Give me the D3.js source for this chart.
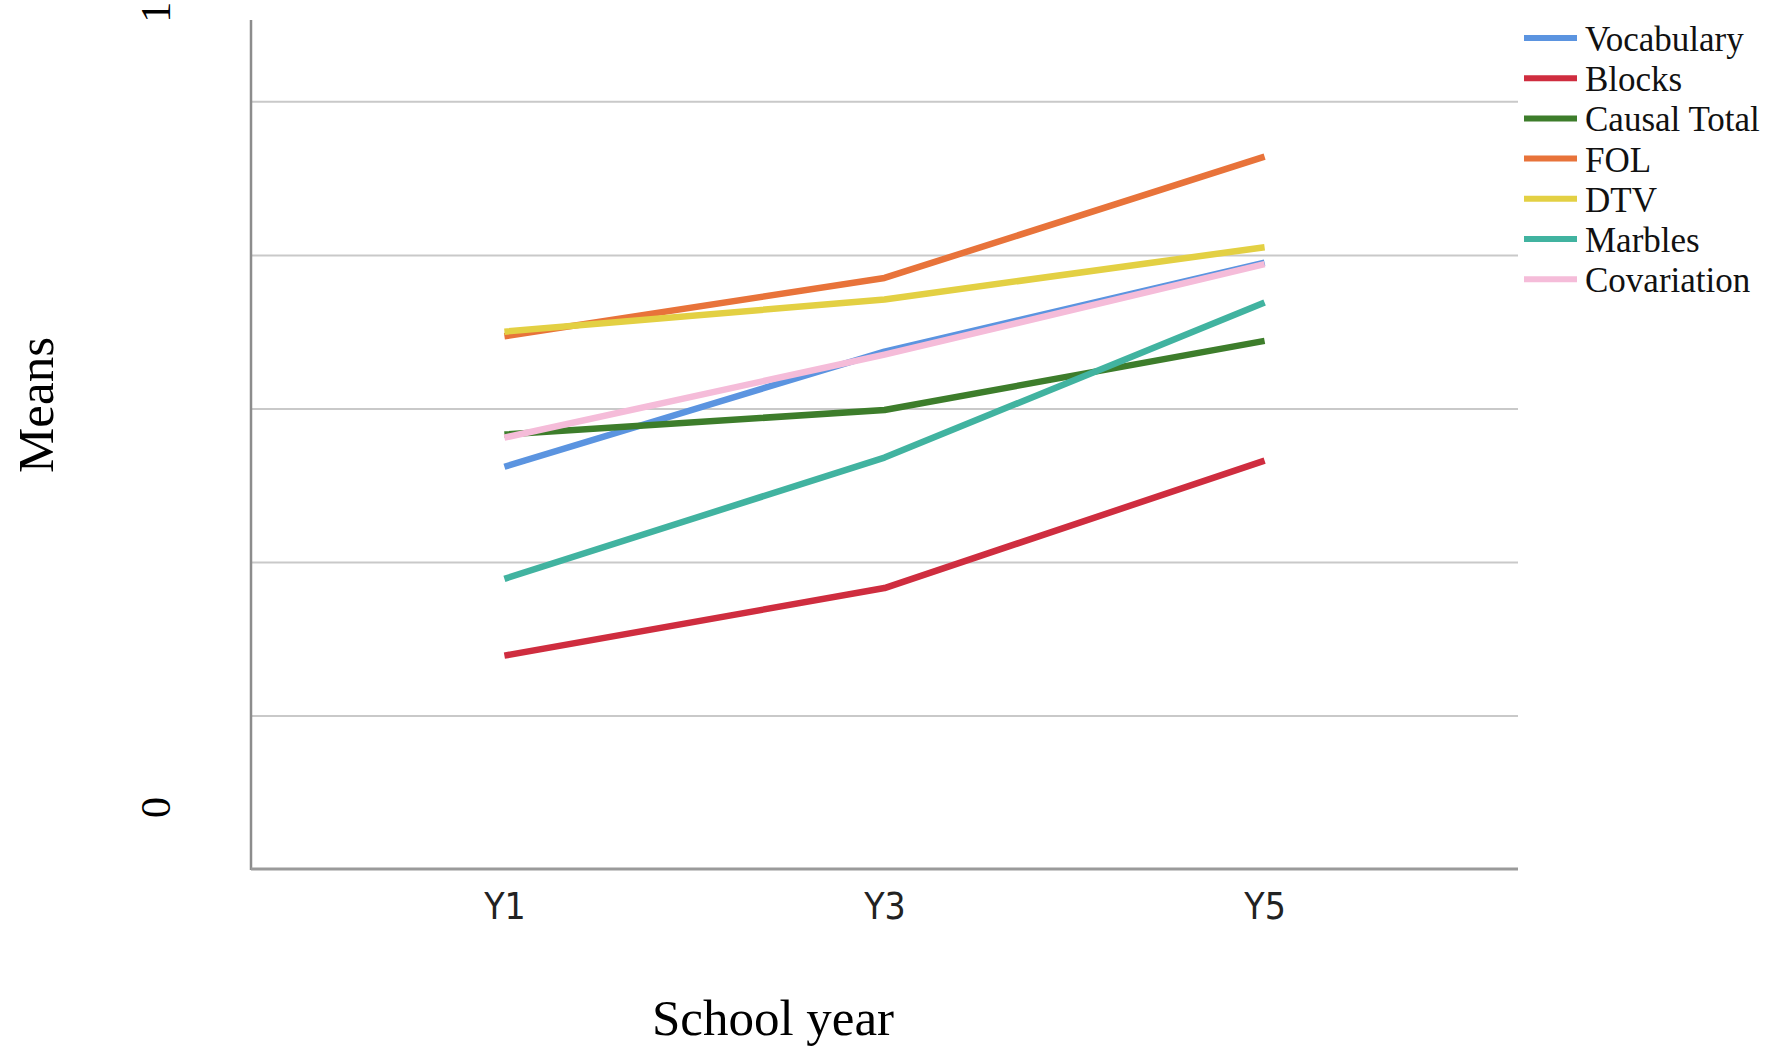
<!DOCTYPE html>
<html>
<head>
<meta charset="utf-8">
<script src="https://cdn.jsdelivr.net/npm/d3@7"></script>
<style>
body{margin:0;background:#fff;}
#canvas{width:1772px;height:1062px;}
</style>
</head>
<body>
<div id="canvas"></div>
<script>
// values, in gridline units (gridlines at 1..5)
var years = ["Y1","Y3","Y5"];
var seriesNames = ["Vocabulary","Blocks","Causal Total","FOL","DTV","Marbles","Covariation"];
var vocabulary = [2.62, 3.37, 3.95];
var blocks = [1.39, 1.83, 2.66];
var causalTotal = [2.83, 2.99, 3.44];
var fol = [3.47, 3.85, 4.64];
var dtv = [3.50, 3.71, 4.05];
var marbles = [1.89, 2.68, 3.69];
var covariation = [2.81, 3.35, 3.94];
var gridTicks = [1,2,3,4,5];
var yTickLabels = ["0","1"];
var seriesColors = ["#5b94e0","#cf2d3f","#3d7d2b","#e8733a","#e3d043","#41b3a0","#f5bcd9"];

var width = 1772;
var height = 1062;
var plotLeft = 251, plotRight = 1518, plotTop = 20, plotBottom = 869;

var init = function(){
	var svg = d3.select("#canvas").append("svg");
	svg.attr("width",width).attr("height",height);
	return svg;
}

var svg = init();

var x = d3.scalePoint().domain(years).range([plotLeft,1518]).padding(2/3);
var y = d3.scaleLinear().domain([0,5.53]).range([plotBottom,plotTop]);

// gridlines
var grid = svg.append("g").attr("transform","translate("+plotLeft+",0)")
	.call(d3.axisLeft(y).tickValues(gridTicks).tickSize(-(plotRight-plotLeft)).tickFormat(""));
grid.select(".domain").remove();
grid.selectAll("line").attr("stroke","#c9c9c9").attr("stroke-width",2);

// axes lines
svg.append("line").attr("x1",plotLeft).attr("x2",plotLeft).attr("y1",plotTop).attr("y2",plotBottom+1)
	.attr("stroke","#8c8c8c").attr("stroke-width",2.5);

var xa = svg.append("g").attr("transform","translate(0,"+plotBottom+")")
	.call(d3.axisBottom(x).tickSize(0).tickPadding(22));
xa.select(".domain").attr("d","M"+plotLeft+",0H"+plotRight).attr("stroke","#9a9a9a").attr("stroke-width",3);
xa.selectAll("text")
	.attr("font-family","'DejaVu Sans Condensed','DejaVu Sans',sans-serif")
	.attr("font-stretch","condensed")
	.attr("font-size",37).attr("fill","#222").attr("dy","0.75em");

// lines
var allSeries = [vocabulary,blocks,causalTotal,fol,dtv,marbles,covariation];
var line = d3.line().x(function(d,i){return x(years[i]);}).y(function(d){return y(d);});
allSeries.forEach(function(s,i){
	svg.append("path").attr("d",line(s)).attr("fill","none")
		.attr("stroke",seriesColors[i]).attr("stroke-width",6.5)
		.attr("stroke-linejoin","round");
});

// odd rotated y labels
var serif = "'Liberation Serif','Times New Roman',serif";
var yLabelAt = [0.4,5.58];
yTickLabels.forEach(function(t,i){
	svg.append("text").text(t)
		.attr("transform","translate(156,"+y(yLabelAt[i])+") rotate(-90)")
		.attr("text-anchor","middle").attr("dominant-baseline","central")
		.attr("font-family",serif).attr("font-size",42).attr("fill","#000");
});

// axis titles
svg.append("text").text("Means")
	.attr("transform","translate(53,405) rotate(-90)")
	.attr("text-anchor","middle")
	.attr("font-family",serif).attr("font-size",51).attr("fill","#000");

svg.append("text").text("School year")
	.attr("x",773).attr("y",1035)
	.attr("text-anchor","middle")
	.attr("font-family",serif).attr("font-size",51).attr("fill","#000");

// legend
var legend = svg.append("g").attr("transform","translate(1524,38)");
seriesNames.forEach(function(n,i){
	var g = legend.append("g").attr("transform","translate(0,"+(i*40.2)+")");
	g.append("line").attr("x1",0).attr("x2",53).attr("y1",0).attr("y2",0)
		.attr("stroke",seriesColors[i]).attr("stroke-width",6);
	g.append("text").text(n).attr("x",61).attr("y",13)
		.attr("font-family",serif).attr("font-size",35).attr("fill","#111");
});
</script>
</body>
</html>
